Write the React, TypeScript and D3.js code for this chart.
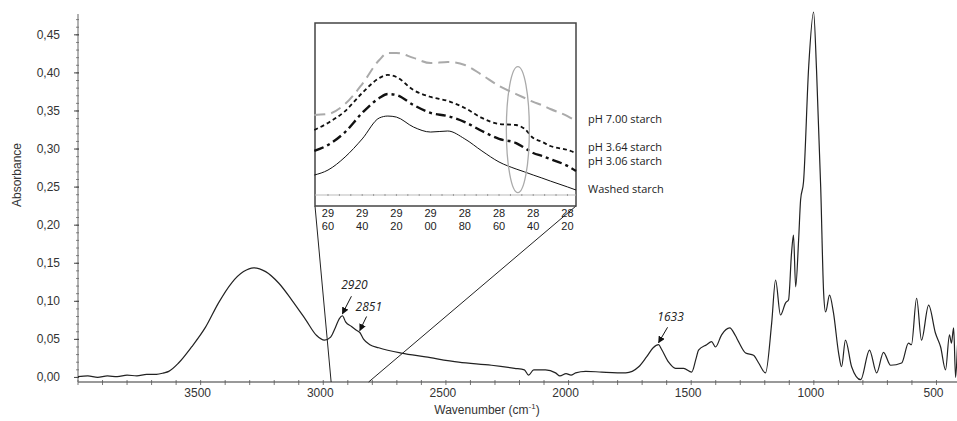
import React, { useRef, useEffect } from 'react'
import * as d3 from 'd3'

// main FTIR spectrum (washed starch)
const wavenumbers = [
  4000, 3960, 3920, 3880, 3840, 3800, 3760, 3720, 3680, 3650, 3630, 3590, 3537, 3480, 3427, 3374, 3325, 3284,
  3235, 3182, 3129, 3072, 3027, 2995, 2970, 2950, 2935, 2922, 2909, 2885, 2865, 2851, 2835, 2810, 2774, 2681,
  2583, 2448, 2314, 2220, 2180, 2163, 2142, 2094, 2053, 2035, 2010, 1990, 1971, 1930, 1865, 1767, 1714, 1682,
  1655, 1633, 1621, 1592, 1564, 1531, 1498, 1480, 1470, 1437, 1417, 1401, 1376, 1343, 1320, 1307, 1278, 1246,
  1225, 1197, 1172, 1156, 1136, 1115, 1103, 1091, 1083, 1074, 1062, 1054, 1042, 1021, 1001, 989, 972, 960,
  952, 936, 920, 899, 887, 871, 846, 809, 773, 744, 716, 687, 642, 614, 602, 581, 561, 532, 504, 483, 463,
  447, 439, 430, 422, 410, 400,
]
const absorbance = [
  0.001, 0.002, 0.0, 0.002, 0.001, 0.003, 0.002, 0.004, 0.004, 0.006, 0.008, 0.019, 0.04, 0.066, 0.098, 0.124, 0.139, 0.144,
  0.139, 0.124, 0.102, 0.076, 0.055, 0.049, 0.053, 0.066, 0.077, 0.081, 0.073, 0.067, 0.062, 0.059, 0.05, 0.043, 0.039, 0.032,
  0.027, 0.02, 0.016, 0.012, 0.01, 0.003, 0.01, 0.01, 0.006, 0.002, 0.005, 0.003, 0.006, 0.008, 0.007, 0.006, 0.014, 0.027,
  0.039, 0.043, 0.037, 0.02, 0.012, 0.012, 0.007, 0.025, 0.036, 0.043, 0.047, 0.04, 0.056, 0.065, 0.055, 0.047, 0.032, 0.029,
  0.019, 0.006, 0.071, 0.128, 0.082, 0.098, 0.102, 0.163, 0.187, 0.119, 0.181, 0.233, 0.257, 0.408, 0.48, 0.404, 0.25, 0.111,
  0.086, 0.108, 0.085, 0.032, 0.014, 0.049, 0.014, -0.003, 0.036, 0.006, 0.033, 0.016, 0.019, 0.045, 0.043, 0.104, 0.049, 0.095, 0.058, 0.04, 0.01,
  0.056, 0.045, 0.065, 0.0, 0.06, 0.04,
]
const yTicks = [0, 0.05, 0.1, 0.15, 0.2, 0.25, 0.3, 0.35, 0.4, 0.45]
const xTicks = [3500, 3000, 2500, 2000, 1500, 1000, 500]
const peakLabels = [
  { w: 2922, text: '2920', dx: 12, dy: -25 },
  { w: 2851, text: '2851', dx: 9, dy: -20 },
  { w: 1633, text: '1633', dx: 12, dy: -22 },
]

// inset: 2968 - 2815 cm-1, relative absorbance
const insetWave = [2968, 2960, 2950, 2940, 2930, 2925, 2920, 2910, 2900, 2890, 2880, 2870, 2860, 2850, 2845, 2840, 2835, 2830, 2820, 2815]
const ph700 = [0.465, 0.471, 0.529, 0.645, 0.785, 0.826, 0.826, 0.797, 0.767, 0.773, 0.756, 0.698, 0.634, 0.587, 0.564, 0.541, 0.523, 0.5, 0.459, 0.43]
const ph364 = [0.378, 0.419, 0.488, 0.593, 0.68, 0.698, 0.686, 0.61, 0.57, 0.547, 0.506, 0.448, 0.413, 0.407, 0.384, 0.331, 0.31, 0.285, 0.262, 0.244]
const ph306 = [0.256, 0.291, 0.366, 0.477, 0.564, 0.587, 0.581, 0.523, 0.477, 0.459, 0.424, 0.372, 0.326, 0.302, 0.273, 0.244, 0.227, 0.209, 0.169, 0.14]
const washed = [0.116, 0.145, 0.221, 0.326, 0.448, 0.459, 0.453, 0.395, 0.366, 0.372, 0.326, 0.256, 0.192, 0.151, 0.134, 0.116, 0.099, 0.081, 0.047, 0.029]
const insetTicks = [2960, 2940, 2920, 2900, 2880, 2860, 2840, 2820]
const insetNames = ['pH 7.00 starch', 'pH 3.64 starch', 'pH 3.06 starch', 'Washed starch']
const insetLabelAt = [0.44, 0.28, 0.2, 0.035]

const AXIS_FONT = '"Liberation Sans Narrow", "Liberation Sans", Arial, sans-serif'
const TICK_FONT = '"Liberation Sans", Arial, sans-serif'
const INSET_FONT = '"Open Sans", "Noto Sans", sans-serif'

export default function App() {
  const svgRef = useRef<SVGSVGElement>(null)

  useEffect(() => {
    const width = 957
    const height = 421
    const svg = d3.select(svgRef.current)
    svg.selectAll('*').remove()
    svg.attr('width', width).attr('height', height)

    const x = d3.scaleLinear().domain([4000, 400]).range([78, 961])
    const y = d3.scaleLinear().domain([-0.006, 0.48]).range([382, 12])

    svg.append('defs').append('marker')
      .attr('id', 'arr')
      .attr('viewBox', '0 0 10 10')
      .attr('refX', 9).attr('refY', 5)
      .attr('markerWidth', 7).attr('markerHeight', 7)
      .attr('orient', 'auto')
      .append('path').attr('d', 'M0,0 L10,5 L0,10 z').attr('fill', '#111')

    // y axis
    const yAxis = svg.append('g')
    yAxis.append('line').attr('x1', 78).attr('x2', 78).attr('y1', 14).attr('y2', 382)
      .attr('stroke', '#999').attr('stroke-width', 1.5)
    d3.range(0, 0.471, 0.01).forEach(v => {
      yAxis.append('line').attr('x1', 76).attr('x2', 79).attr('y1', y(v)).attr('y2', y(v))
        .attr('stroke', '#666').attr('stroke-width', 0.8)
    })
    yTicks.forEach(v => {
      yAxis.append('line').attr('x1', 74).attr('x2', 79).attr('y1', y(v)).attr('y2', y(v))
        .attr('stroke', '#444')
      yAxis.append('text').attr('x', 60).attr('y', y(v) + 4)
        .attr('text-anchor', 'end').attr('font-family', AXIS_FONT).attr('font-size', 12).attr('fill', '#333')
        .text(v.toFixed(2).replace('.', ','))
    })
    svg.append('text')
      .attr('transform', 'translate(21,175) rotate(-90)')
      .attr('text-anchor', 'middle').attr('font-family', AXIS_FONT).attr('font-size', 12).attr('fill', '#333')
      .text('Absorbance')

    // x axis
    const xAxis = svg.append('g')
    xAxis.append('line').attr('x1', 78).attr('x2', width).attr('y1', 382).attr('y2', 382)
      .attr('stroke', '#999').attr('stroke-width', 2)
    d3.range(4000, 399, -100).forEach(w => {
      xAxis.append('line').attr('x1', x(w)).attr('x2', x(w)).attr('y1', 380).attr('y2', 385)
        .attr('stroke', '#555').attr('stroke-width', 0.8)
    })
    xTicks.forEach(w => {
      xAxis.append('text').attr('x', x(w) - 3).attr('y', 397)
        .attr('text-anchor', 'middle').attr('font-family', AXIS_FONT).attr('font-size', 12).attr('fill', '#333')
        .text(w)
    })
    const xt = svg.append('text').attr('x', 487).attr('y', 414)
      .attr('text-anchor', 'middle').attr('font-family', AXIS_FONT).attr('font-size', 12).attr('fill', '#333')
    xt.append('tspan').text('Wavenumber (cm')
    xt.append('tspan').attr('font-size', 8).attr('dy', -5).text('-1')
    xt.append('tspan').attr('dy', 5).text(')')

    // spectrum
    const pts = wavenumbers.map((w, i) => [w, absorbance[i]] as [number, number])
    svg.append('path')
      .datum(pts)
      .attr('d', d3.line<[number, number]>().x(d => x(d[0])).y(d => y(d[1])).curve(d3.curveMonotoneX))
      .attr('fill', 'none').attr('stroke', '#222').attr('stroke-width', 1.2)

    // peak annotations
    peakLabels.forEach(p => {
      const i = wavenumbers.indexOf(p.w)
      const tx = x(p.w)
      const ty = y(absorbance[i]) - 2
      svg.append('line')
        .attr('x1', tx + p.dx * 0.75).attr('y1', ty + p.dy * 0.7)
        .attr('x2', tx).attr('y2', ty)
        .attr('stroke', '#111').attr('stroke-width', 1).attr('marker-end', 'url(#arr)')
      svg.append('text').attr('x', tx + p.dx).attr('y', ty + p.dy)
        .attr('text-anchor', 'middle').attr('font-family', INSET_FONT).attr('font-style', 'italic')
        .attr('font-size', 12).attr('fill', '#222').text(p.text)
    })

    // inset
    const ix = d3.scaleLinear().domain([2967.6, 2815]).range([315, 576])
    const iy = d3.scaleLinear().domain([-0.064, 1]).range([206, 23])

    // zoom lines from inset corners to axis
    svg.append('line').attr('x1', 315).attr('y1', 206).attr('x2', x(2968)).attr('y2', 382)
      .attr('stroke', '#222').attr('stroke-width', 1)
    svg.append('line').attr('x1', 576).attr('y1', 206).attr('x2', x(2815)).attr('y2', 382)
      .attr('stroke', '#222').attr('stroke-width', 1)

    const inset = svg.append('g')
    inset.append('rect').attr('x', 315).attr('y', 23).attr('width', 261).attr('height', 183)
      .attr('fill', '#fff').attr('stroke', '#444').attr('stroke-width', 1.5)
    inset.append('line').attr('x1', 315).attr('x2', 576).attr('y1', iy(0)).attr('y2', iy(0))
      .attr('stroke', '#bbb').attr('stroke-width', 1.2)
    d3.range(2960, 2815, -20 / 3).forEach(w => {
      inset.append('line').attr('x1', ix(w)).attr('x2', ix(w)).attr('y1', iy(0) - 1).attr('y2', iy(0) + 1)
        .attr('stroke', '#888').attr('stroke-width', 0.8)
    })
    insetTicks.forEach(w => {
      const s = String(w)
      ;[s.slice(0, 2), s.slice(2)].forEach((part, k) => {
        inset.append('text').attr('x', ix(w)).attr('y', 217 + k * 13)
          .attr('text-anchor', 'middle')
          .attr('font-family', TICK_FONT).attr('font-size', 11).attr('fill', '#222')
          .text(part)
      })
    })

    const iline = d3.line<number>().x((_, i) => ix(insetWave[i])).y(d => iy(d)).curve(d3.curveMonotoneX)
    const styles = [
      { data: ph700, stroke: '#aaa', w: 2, dash: '11,6' },
      { data: ph364, stroke: '#111', w: 1.8, dash: '4,3' },
      { data: ph306, stroke: '#111', w: 2.4, dash: '10,4,3,4' },
      { data: washed, stroke: '#111', w: 1, dash: null },
    ]
    styles.forEach(s => {
      inset.append('path').datum(s.data).attr('d', iline)
        .attr('fill', 'none').attr('stroke', s.stroke).attr('stroke-width', s.w)
        .attr('stroke-dasharray', s.dash)
    })
    inset.append('ellipse').attr('cx', ix(2849)).attr('cy', iy(0.38)).attr('rx', 11.5).attr('ry', 63)
      .attr('fill', 'none').attr('stroke', '#aaa').attr('stroke-width', 1.3)

    insetNames.forEach((n, i) => {
      inset.append('text').attr('x', 588).attr('y', iy(insetLabelAt[i]) + 4)
        .attr('font-family', INSET_FONT).attr('font-size', 11).attr('fill', '#222').text(n)
    })
  }, [])

  return (
    <div style={{ position: 'absolute', left: 0, top: 0, background: '#fff' }}>
      <svg ref={svgRef} style={{ display: 'block' }} role="img" aria-label="FTIR spectrum of starch with inset" />
    </div>
  )
}
